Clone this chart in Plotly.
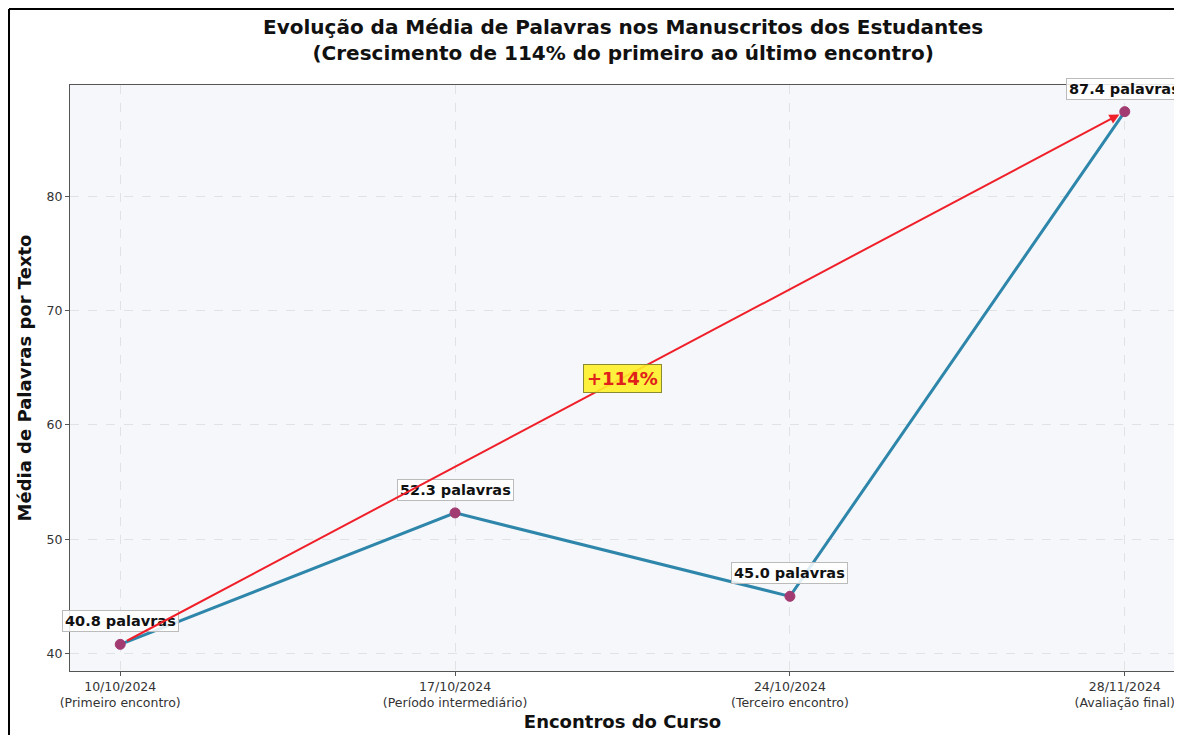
import plotly.graph_objects as go

dates = ["10/10/2024", "17/10/2024", "24/10/2024", "28/11/2024"]
phases = ["(Primeiro encontro)", "(Período intermediário)", "(Terceiro encontro)", "(Avaliação final)"]
media_palavras = [40.8, 52.3, 45.0, 87.4]
crescimento_pct = 114

x_idx = list(range(len(dates)))
tick_text = [f"{d}<br>{p}" for d, p in zip(dates, phases)]
FONT = "DejaVu Sans"

fig = go.Figure()
fig.add_trace(go.Scatter(
    x=x_idx, y=media_palavras, mode="lines+markers",
    line=dict(color="#2E86AB", width=3),
    marker=dict(color="#A23B72", size=10, line=dict(color="#A23B72", width=1)),
    showlegend=False, hoverinfo="x+y"))

annotations = []
for xi, v in zip(x_idx, media_palavras):
    annotations.append(dict(
        x=xi, y=v, xref="x", yref="y", text=f"<b>{v:.1f} palavras</b>",
        showarrow=False, yshift=23,
        font=dict(family=FONT, size=14.5, color="#111111"),
        bgcolor="rgba(255,255,255,0.85)", bordercolor="#BBBBBB", borderwidth=1, borderpad=2))

# trend arrow first -> last
annotations.append(dict(
    x=x_idx[-1], y=media_palavras[-1], ax=x_idx[0], ay=media_palavras[0],
    xref="x", yref="y", axref="x", ayref="y", text="",
    showarrow=True, arrowhead=2, arrowsize=1, arrowwidth=2, arrowcolor="#F0202A",
    standoff=6, startstandoff=6))

annotations.append(dict(
    x=(x_idx[0] + x_idx[-1]) / 2, y=(media_palavras[0] + media_palavras[-1]) / 2,
    xref="x", yref="y", text=f"<b>+{crescimento_pct}%</b>", showarrow=False,
    font=dict(family=FONT, size=18, color="#E0201A"),
    bgcolor="rgba(255,240,40,0.9)", bordercolor="#8A8A30", borderwidth=1, borderpad=3))

# title as paper annotation
annotations.append(dict(
    x=0.5, y=1.0768, xref="paper", yref="paper", xanchor="center", yanchor="middle",
    text="<b>Evolução da Média de Palavras nos Manuscritos dos Estudantes<br>(Crescimento de 114% do primeiro ao último encontro)</b>",
    showarrow=False, font=dict(family=FONT, size=20, color="#111111")))

fig.update_layout(
    width=1174, height=727,
    margin=dict(l=62, r=7, t=77, b=64, autoexpand=False),
    paper_bgcolor="white", plot_bgcolor="#F5F7FA",
    font=dict(family=FONT, color="#333333"),
    annotations=annotations,
    shapes=[
        dict(type="line", xref="paper", yref="paper", x0=-0.0552, x1=-0.0552, y0=1.1297, y1=-0.2,
             line=dict(color="black", width=2)),
        dict(type="line", xref="paper", yref="paper", x0=-0.0552, x1=1.1, y0=1.1297, y1=1.1297,
             line=dict(color="black", width=2)),
    ],
)

fig.update_xaxes(
    automargin=False,
    range=[-0.15, 3.15], tickvals=x_idx, ticktext=tick_text,
    tickfont=dict(family=FONT, size=12.5, color="#333333"),
    ticks="outside", ticklen=4, tickcolor="#555555",
    showline=True, linecolor="#555555", linewidth=1, mirror=True,
    showgrid=True, gridcolor="rgba(180,180,180,0.3)", griddash="dash", zeroline=False,
    title=dict(text="<b>Encontros do Curso</b>", font=dict(family=FONT, size=18, color="#111111"), standoff=6))
fig.update_yaxes(
    automargin=False,
    range=[38.47, 89.73], tickvals=[40, 50, 60, 70, 80],
    tickfont=dict(family=FONT, size=12.5, color="#333333"),
    ticks="outside", ticklen=4, tickcolor="#555555",
    showline=True, linecolor="#555555", linewidth=1, mirror=True,
    showgrid=True, gridcolor="rgba(180,180,180,0.3)", griddash="dash", zeroline=False,
    title=dict(text="<b>Média de Palavras por Texto</b>", font=dict(family=FONT, size=18, color="#111111"), standoff=10))

fig.write_html("out.html")
